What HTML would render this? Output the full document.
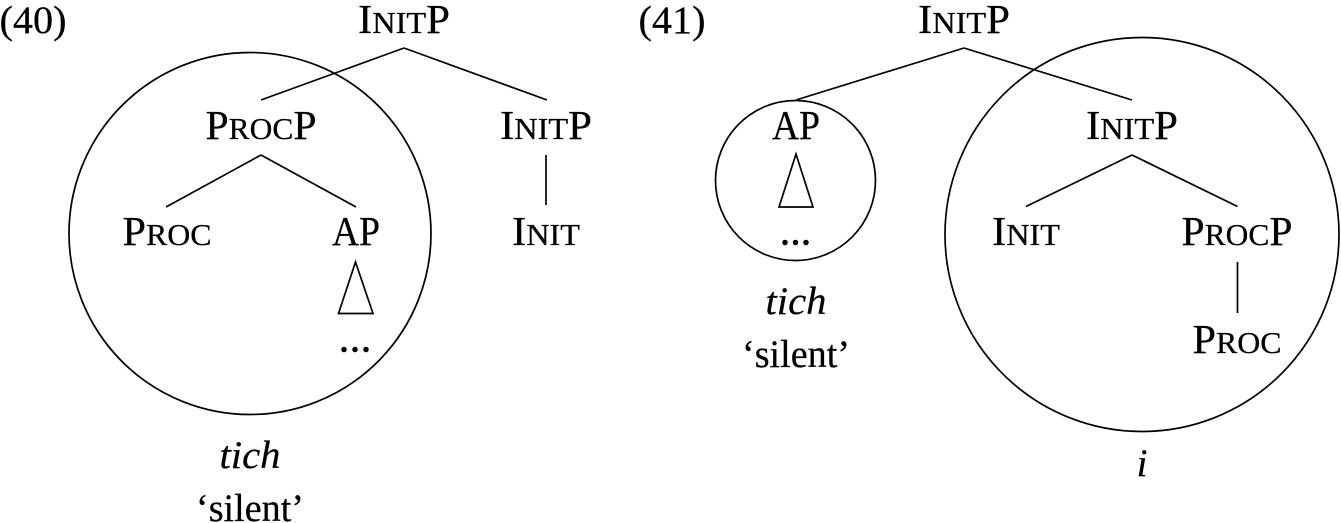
<!DOCTYPE html>
<html><head><meta charset="utf-8"><style>
html,body{margin:0;padding:0;background:#fff}
svg{display:block}
text{font-family:"Liberation Serif",serif;font-size:41px;fill:#000;stroke:#000;stroke-width:.25;text-anchor:middle}
.s{font-size:31px}
.l{font-size:39px}
.d{font-size:34px;font-weight:bold;stroke:none}
line,circle,polygon{stroke:#000;stroke-width:1.7;fill:none}
</style></head><body>
<svg width="1341" height="523" viewBox="0 0 1341 523" xmlns="http://www.w3.org/2000/svg">
<circle cx="250" cy="233.5" r="181"/>
<circle cx="795.5" cy="180.5" r="80"/>
<circle cx="1142" cy="234.5" r="197"/>
<line x1="404" y1="48" x2="261" y2="100"/><line x1="404" y1="48" x2="547" y2="100"/>
<line x1="261" y1="155" x2="166" y2="207"/><line x1="261" y1="155" x2="356" y2="207"/>
<line x1="546" y1="155" x2="546" y2="205"/>
<polygon points="355.500,262 338.500,313.500 373,313.500"/>
<line x1="964" y1="48" x2="796" y2="100"/><line x1="964" y1="48" x2="1132" y2="100"/>
<polygon points="796,154 779,207 813,207"/>
<line x1="1132" y1="155" x2="1026" y2="206.500"/><line x1="1132" y1="155" x2="1237.500" y2="206.500"/>
<line x1="1237.500" y1="262" x2="1237.500" y2="313"/>
<text class="l" x="33" y="33" textLength="67" lengthAdjust="spacingAndGlyphs">(40)</text>
<text x="404" y="33" textLength="92" lengthAdjust="spacingAndGlyphs">I<tspan class="s">NIT</tspan>P</text>
<text x="261" y="139" textLength="111" lengthAdjust="spacingAndGlyphs">P<tspan class="s">ROC</tspan>P</text>
<text x="546" y="139" textLength="92" lengthAdjust="spacingAndGlyphs">I<tspan class="s">NIT</tspan>P</text>
<text x="167" y="245" textLength="89" lengthAdjust="spacingAndGlyphs">P<tspan class="s">ROC</tspan></text>
<text x="356" y="245" textLength="48" lengthAdjust="spacingAndGlyphs">AP</text>
<text x="546" y="245" textLength="68" lengthAdjust="spacingAndGlyphs">I<tspan class="s">NIT</tspan></text>
<text class="d" x="344 355 366" y="352">...</text>
<text class="l" x="250" y="468" font-style="italic" textLength="61" lengthAdjust="spacingAndGlyphs">tich</text>
<text class="l" x="250" y="521" textLength="108" lengthAdjust="spacingAndGlyphs">‘silent’</text>
<text class="l" x="672" y="33" textLength="67" lengthAdjust="spacingAndGlyphs">(41)</text>
<text x="964" y="33" textLength="92" lengthAdjust="spacingAndGlyphs">I<tspan class="s">NIT</tspan>P</text>
<text x="796" y="139" textLength="48" lengthAdjust="spacingAndGlyphs">AP</text>
<text x="1132" y="139" textLength="92" lengthAdjust="spacingAndGlyphs">I<tspan class="s">NIT</tspan>P</text>
<text class="d" x="785 795.500 806" y="245">...</text>
<text class="l" x="796" y="314" font-style="italic" textLength="61" lengthAdjust="spacingAndGlyphs">tich</text>
<text class="l" x="796" y="367" textLength="108" lengthAdjust="spacingAndGlyphs">‘silent’</text>
<text x="1026" y="245" textLength="68" lengthAdjust="spacingAndGlyphs">I<tspan class="s">NIT</tspan></text>
<text x="1237" y="245" textLength="111" lengthAdjust="spacingAndGlyphs">P<tspan class="s">ROC</tspan>P</text>
<text x="1237" y="353" textLength="89" lengthAdjust="spacingAndGlyphs">P<tspan class="s">ROC</tspan></text>
<text class="l" x="1142" y="476" font-style="italic">i</text>
</svg>
</body></html>
